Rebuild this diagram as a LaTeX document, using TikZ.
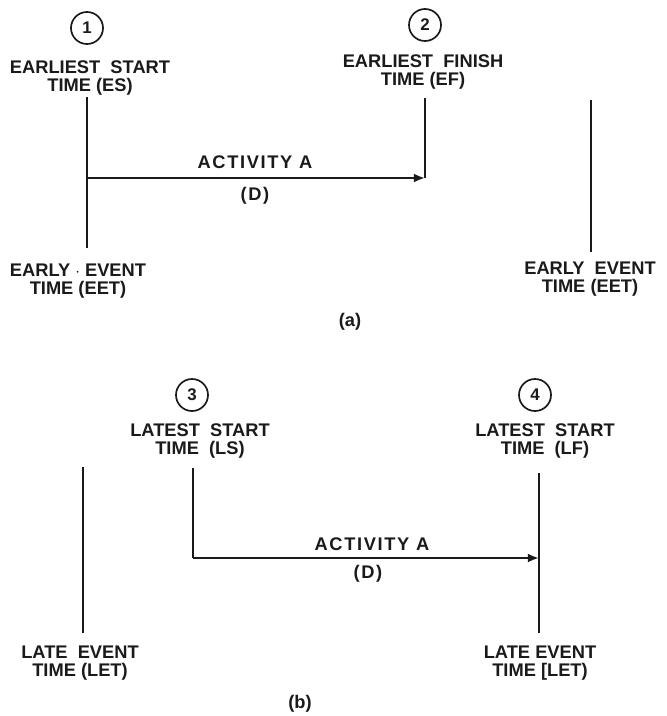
\documentclass[tikz,border=0pt]{standalone}
\usepackage{fontspec}
\setmainfont{Liberation Sans}
\usepackage{xcolor}
\usepackage{tikz}
\definecolor{netInk}{HTML}{1A1A1A}
\usetikzlibrary{arrows.meta,positioning}

\begin{document}
\begin{tikzpicture}[
  x=0.025cm, y=-0.025cm,
  font=\fontsize{13}{13.2}\selectfont\bfseries,
  >=Latex,
  event/.style={circle, draw=netInk, line width=1.2pt, minimum size=0.8cm, inner sep=0pt, text=netInk, font=\fontsize{12}{14}\selectfont\bfseries},
  timelabel/.style={align=center, inner sep=0pt, text=netInk},
  timeline/.style={draw=netInk, line width=1.8pt},
  activity/.style={-{Latex[length=8pt,width=6.5pt]}, draw=netInk, line width=1.8pt},
  actlabel/.style={inner sep=0pt, text=netInk, font=\fontsize{13}{14}\selectfont\bfseries\addfontfeature{LetterSpace=9}}
]
\useasboundingbox (0,0) rectangle (666,716);

% (a) early times
\node[event] (n1) at (87,28) {1};
\node[timelabel] (es) at (90,78) {EARLIEST~~START\\TIME (ES)};
\node[event] (n2) at (425,25) {2};
\node[timelabel] (ef) at (423,72) {EARLIEST~~FINISH\\TIME (EF)};
\node[timelabel] (eetL) at (78,281) {EARLY $\cdot$ EVENT\\TIME (EET)};
\node[timelabel] (eetR) at (590,279) {EARLY~~EVENT\\TIME (EET)};

\coordinate (esTop) at (87,97);
\coordinate (esBot) at (87,248);
\coordinate (esTail) at (87,178);
\coordinate (efTop) at (425,98);
\coordinate (efEnd) at (425,178);
\coordinate (eetTop) at (591,100);
\coordinate (eetBot) at (591,252);

\draw[timeline] (esTop) -- (esBot);
\draw[timeline] (efTop) -- (efEnd);
\draw[timeline] (eetTop) -- (eetBot);
\draw[activity] (esTail) -- (efEnd);

\node[actlabel] (actA) at (255,162) {ACTIVITY A};
\node[actlabel] (durA) at (255,196) {(D)};
\node[timelabel] (capA) at (350,322) {(a)};

% (b) late times
\node[event] (n3) at (192,395) {3};
\node[timelabel] (ls) at (200,441) {LATEST~~START\\TIME~~(LS)};
\node[event] (n4) at (535,395) {4};
\node[timelabel] (lf) at (545,441) {LATEST~~START\\TIME~~(LF)};
\node[timelabel] (letL) at (80,663) {LATE~~EVENT\\TIME (LET)};
\node[timelabel] (letR) at (540,663) {LATE EVENT\\TIME [LET)};

\coordinate (letLTop) at (83,467);
\coordinate (letLBot) at (83,633);
\coordinate (lsTop) at (193,468);
\coordinate (lsTail) at (193,558);
\coordinate (lfTop) at (539,473);
\coordinate (lfEnd) at (539,558);
\coordinate (lfBot) at (539,633);

\draw[timeline] (letLTop) -- (letLBot);
\draw[timeline] (lsTop) -- (lsTail);
\draw[timeline] (lfTop) -- (lfBot);
\draw[activity] (lsTail) -- (lfEnd);

\node[actlabel] (actB) at (372,544) {ACTIVITY A};
\node[actlabel] (durB) at (368,574) {(D)};
\node[timelabel] (capB) at (300,704) {(b)};

\end{tikzpicture}
\end{document}
